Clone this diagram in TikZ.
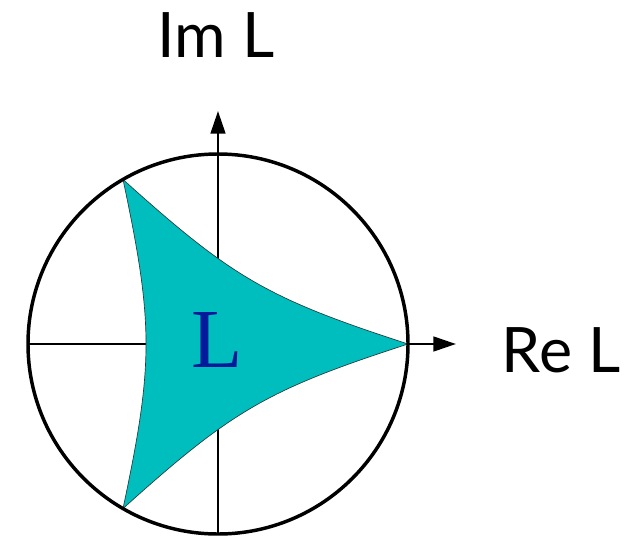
\documentclass[tikz,border=0pt]{standalone}
\usepackage{fontspec}
\setmainfont{Liberation Serif}
\newfontfamily\labelfont{Lato}
\usetikzlibrary{arrows.meta}

\tikzset{every picture/.style={line width=0.75pt}}

\begin{document}
\begin{tikzpicture}[x=0.75pt,y=0.75pt,yscale=-1,xscale=1]
\path [use as bounding box] (0,0) rectangle (634,538); %set diagram size 634 x 538

\coordinate (O) at (218,344);
\coordinate (xstart) at (28,344);
\coordinate (xend) at (456,344);
\coordinate (ystart) at (218,535);
\coordinate (yend) at (218,111);

%Straight Lines [id:axis-re]
\draw [line width=1.9pt, -{Triangle[length=17pt,width=11pt]}] (xstart) -- (xend) ;
%Straight Lines [id:axis-im]
\draw [line width=1.9pt, -{Triangle[length=17pt,width=11pt]}] (ystart) -- (yend) ;

%Shape: Deltoid [id:region-l]
\begin{scope}[shift={(O)}]
\draw [draw={rgb, 255:red, 40; green, 60; blue, 60 }, line width=0.5pt, fill={rgb, 255:red, 0; green, 190; blue, 190 }, fill opacity=1 ]
  (0:190) .. controls (42.6:67.4) and (77.4:67.4) .. (120:190)
  .. controls (162.6:67.4) and (197.4:67.4) .. (240:190)
  .. controls (282.6:67.4) and (317.4:67.4) .. (360:190) -- cycle ;
\end{scope}

%Shape: Circle [id:unit-circle]
\draw [line width=2.6pt] (O) circle [radius=190] ;

% Text Node
\node (llabel) at (217,340) [inner sep=0pt, text={rgb, 255:red, 5; green, 25; blue, 155 }, font=\fontsize{63}{63}\selectfont] {L};
% Text Node
\node (imlabel) at (216,35) [inner sep=0pt, font=\labelfont\fontsize{47}{47}\selectfont] {Im L};
% Text Node
\node (relabel) at (561,350) [inner sep=0pt, font=\labelfont\fontsize{47}{47}\selectfont] {Re L};

\end{tikzpicture}
\end{document}
